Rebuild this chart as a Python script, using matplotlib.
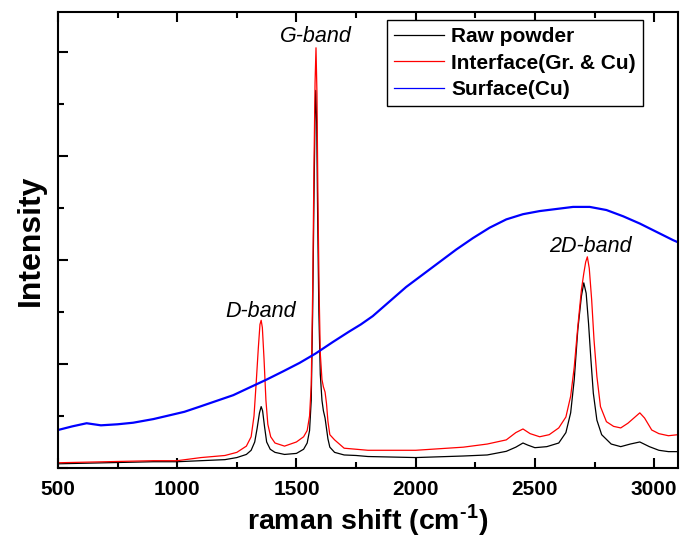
import matplotlib
matplotlib.use("Agg")
import matplotlib.pyplot as plt
from matplotlib.ticker import MultipleLocator

plt.rcParams['font.family'] = ['Liberation Sans', 'DejaVu Sans']
plt.rcParams['mathtext.fontset'] = 'custom'
plt.rcParams['mathtext.rm'] = 'Liberation Sans:bold'
plt.rcParams['mathtext.bf'] = 'Liberation Sans:bold'

# Raw powder (black)
raw_x = [500, 700, 900, 1000, 1100, 1200, 1250, 1290, 1310, 1325, 1335, 1345, 1352, 1358, 1366,
         1375, 1390, 1410, 1450, 1500, 1530, 1545, 1555, 1562, 1568, 1573, 1578, 1581, 1585,
         1589, 1594, 1600, 1607, 1613, 1620, 1626, 1632, 1640, 1660, 1700, 1750, 1800, 2000,
         2200, 2300, 2380, 2420, 2450, 2470, 2500, 2550, 2600, 2630, 2650, 2665, 2680, 2695,
         2705, 2715, 2725, 2735, 2745, 2760, 2780, 2820, 2860, 2900, 2940, 2980, 3020, 3060, 3100]
raw_y = [0.04, 0.05, 0.06, 0.06, 0.07, 0.08, 0.10, 0.13, 0.17, 0.25, 0.38, 0.53, 0.59, 0.55, 0.40,
         0.25, 0.18, 0.15, 0.13, 0.14, 0.18, 0.24, 0.36, 0.65, 1.5, 2.5, 3.4, 3.63, 3.3,
         2.4, 1.5, 0.9, 0.65, 0.55, 0.48, 0.38, 0.28, 0.20, 0.15, 0.125, 0.12, 0.11, 0.10,
         0.115, 0.125, 0.16, 0.20, 0.24, 0.22, 0.195, 0.205, 0.24, 0.34, 0.53, 0.85, 1.33, 1.65,
         1.78, 1.68, 1.39, 1.04, 0.72, 0.46, 0.32, 0.23, 0.205, 0.23, 0.25, 0.205, 0.17, 0.157, 0.157]

# Interface (Gr. & Cu) (red)
int_x = [500, 700, 900, 1000, 1100, 1200, 1250, 1290, 1310, 1322, 1332, 1340, 1347, 1352, 1357,
         1364, 1372, 1380, 1392, 1410, 1450, 1500, 1530, 1545, 1555, 1562, 1568, 1573, 1578,
         1582, 1586, 1590, 1595, 1600, 1607, 1613, 1620, 1626, 1632, 1640, 1660, 1700, 1800,
         2000, 2200, 2300, 2380, 2420, 2450, 2480, 2520, 2560, 2600, 2630, 2650, 2665, 2680,
         2695, 2705, 2713, 2720, 2728, 2738, 2748, 2760, 2775, 2800, 2830, 2860, 2890, 2920,
         2940, 2960, 2990, 3020, 3060, 3100]
int_y = [0.05, 0.06, 0.07, 0.07, 0.10, 0.12, 0.15, 0.21, 0.30, 0.50, 0.85, 1.15, 1.38, 1.42, 1.35,
         1.05, 0.65, 0.42, 0.30, 0.24, 0.21, 0.25, 0.30, 0.36, 0.50, 0.80, 1.7, 2.8, 3.7,
         4.04, 3.6, 2.6, 1.7, 1.1, 0.85, 0.78, 0.73, 0.62, 0.45, 0.32, 0.27, 0.19, 0.17,
         0.17, 0.20, 0.23, 0.27, 0.34, 0.375, 0.33, 0.30, 0.32, 0.385, 0.49, 0.69, 0.97, 1.36,
         1.71, 1.87, 1.98, 2.03, 1.92, 1.62, 1.23, 0.88, 0.59, 0.445, 0.40, 0.385, 0.43, 0.49,
         0.53, 0.48, 0.365, 0.33, 0.31, 0.32]

# Surface (Cu) (blue)
surf_x = [500, 560, 620, 650, 680, 750, 815, 900, 956, 1030, 1095, 1165, 1235, 1300, 1375,
          1445, 1513, 1580, 1652, 1720, 1770, 1820, 1890, 1960, 2030, 2100, 2170, 2240, 2310, 2380,
          2450, 2520, 2590, 2660, 2730, 2800, 2870, 2940, 3010, 3080, 3100]
surf_y = [0.365, 0.40, 0.43, 0.42, 0.41, 0.42, 0.435, 0.47, 0.50, 0.54, 0.59, 0.645, 0.70, 0.77, 0.85,
          0.93, 1.01, 1.10, 1.21, 1.31, 1.38, 1.46, 1.60, 1.74, 1.86, 1.98, 2.10, 2.21, 2.31, 2.39,
          2.44, 2.47, 2.49, 2.51, 2.51, 2.48, 2.42, 2.35, 2.27, 2.19, 2.17]

labels = ["Raw powder", "Interface(Gr. & Cu)", "Surface(Cu)"]
band_labels = ["D-band", "G-band", "2D-band"]
band_pos = [(1350, 1.45), (1580, 4.10), (2732, 2.08)]

fig = plt.figure(figsize=(6.8, 5.41), dpi=100)
ax = fig.add_axes([0.0853, 0.135, 0.9117, 0.843])

ax.plot(raw_x, raw_y, color='black', lw=0.9, label=labels[0])
ax.plot(int_x, int_y, color='red', lw=0.9, label=labels[1])
ax.plot(surf_x, surf_y, color='blue', lw=1.6, label=labels[2])

ax.set_xlim(500, 3100)
ax.set_ylim(0, 4.385)
ax.xaxis.set_major_locator(MultipleLocator(500))
ax.xaxis.set_minor_locator(MultipleLocator(250))
ax.yaxis.set_major_locator(MultipleLocator(1))
ax.yaxis.set_minor_locator(MultipleLocator(0.5))
ax.tick_params(axis='both', which='both', direction='in', width=1.5)
ax.tick_params(axis='both', which='major', length=7)
ax.tick_params(axis='both', which='minor', length=4.5)
ax.tick_params(axis='x', which='both', top=True, pad=9, labelsize=15)
ax.tick_params(axis='y', which='both', right=False, labelleft=False)
for lab in ax.get_xticklabels():
    lab.set_fontweight('bold')
for sp in ax.spines.values():
    sp.set_linewidth(1.5)

ax.set_xlabel("raman shift (cm$^{\\text{-1}}$)", fontsize=20.5, fontweight='bold', labelpad=2)
ax.set_ylabel("Intensity", fontsize=23, fontweight='bold', labelpad=9)

for txt, (bx, by) in zip(band_labels, band_pos):
    ax.text(bx, by, txt, fontsize=15.5, style='italic', ha='center', va='baseline')

leg = ax.legend(loc='upper left', bbox_to_anchor=(0.531, 0.982), borderaxespad=0,
                prop={'size': 15, 'weight': 'bold'}, fancybox=False, framealpha=1,
                edgecolor='black', handlelength=2.4, handletextpad=0.35,
                labelspacing=0.37, borderpad=0.33)
leg.get_frame().set_linewidth(1.0)
for h in leg.get_lines():
    h.set_linewidth(0.9)

fig.savefig("out.png", dpi=100)
